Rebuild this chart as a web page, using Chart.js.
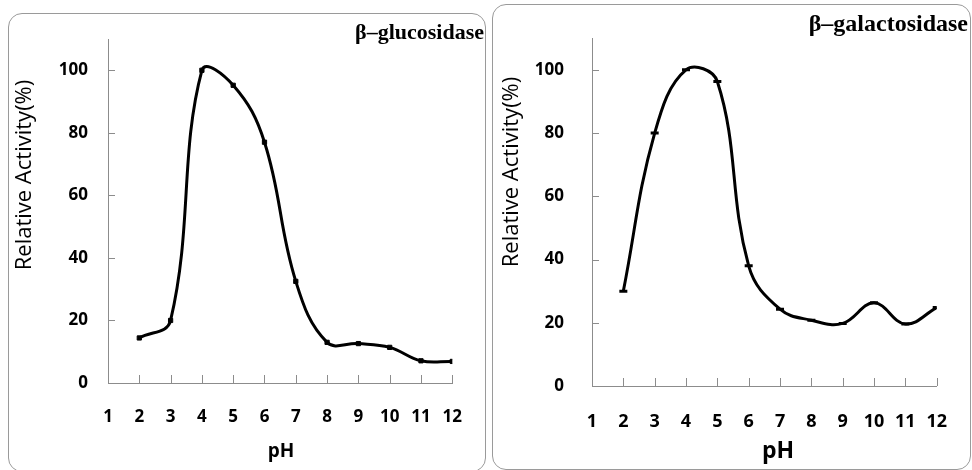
<!DOCTYPE html>
<html>
<head>
<meta charset="utf-8">
<script src="https://cdn.jsdelivr.net/npm/chart.js@4.4.0/dist/chart.umd.min.js"></script>
<style>
  body { margin:0; background:#fff; width:972px; height:470px; overflow:hidden; position:relative; }
  .panel { position:absolute; border:1.5px solid #9a9a9a; border-radius:14px; box-sizing:border-box; }
  #p1 { left:8px; top:13px; width:478px; height:459px; }
  #p2 { left:492px; top:4px; width:479px; height:466px; }
  canvas { position:absolute; top:0; }
</style>
</head>
<body>
<div class="panel" id="p1"></div>
<div class="panel" id="p2"></div>
<canvas id="c1" width="486" height="470" style="left:0"></canvas>
<canvas id="c2" width="486" height="470" style="left:486px"></canvas>
<script>
// pH values measured
let phValues = [2, 3, 4, 5, 6, 7, 8, 9, 10, 11, 12]
// relative activity (%)
let glucosidase = [14.4, 20, 100, 95.2, 77, 32.5, 13, 12.6, 11.4, 7.1, 6.9]
let galactosidase = [30, 80, 100, 96.3, 38, 24.3, 20.8, 19.8, 26.3, 19.6, 24.8]

let xTicks = [1, 2, 3, 4, 5, 6, 7, 8, 9, 10, 11, 12]
let yTicks = [0, 20, 40, 60, 80, 100]
let yTitle = "Relative Activity(%)"
let xTitle = "pH"

// inner tick marks + the extra texts
let decor = {
  id: 'decor',
  beforeDatasetsDraw(chart, args, o) {
    let ctx = chart.ctx, a = chart.chartArea
    ctx.save()
    ctx.strokeStyle = '#8c8c8c'
    ctx.lineWidth = 1
    ctx.beginPath()
    xTicks.forEach(function(v){
      if (v > xTicks[0]) {
        let px = Math.round(chart.scales.x.getPixelForValue(v)) + 0.5
        ctx.moveTo(px, a.bottom)
        ctx.lineTo(px, a.bottom - 8)
      }
    })
    yTicks.forEach(function(v){
      if (v > 0) {
        let py = Math.round(chart.scales.y.getPixelForValue(v)) + 0.5
        ctx.moveTo(a.left, py)
        ctx.lineTo(a.left + 7, py)
      }
    })
    ctx.stroke()
    ctx.restore()
  },
  afterDraw(chart, args, o) {
    let ctx = chart.ctx
    ctx.save()
    ctx.fillStyle = '#000'
    ctx.textBaseline = 'middle'
    // panel name
    ctx.font = 'bold ' + o.nameSize + 'px "Liberation Serif", serif'
    ctx.textAlign = 'right'
    ctx.fillText(o.name, o.nameX, o.nameY)
    // x title
    ctx.font = 'bold ' + o.xTitleSize + 'px "Open Sans", sans-serif'
    ctx.textAlign = 'center'
    ctx.fillText(xTitle, o.xTitleX, o.xTitleY)
    // y title
    ctx.font = o.yTitleSize + 'px "Open Sans", sans-serif'
    ctx.translate(o.yTitleX, o.yTitleY)
    ctx.rotate(-Math.PI / 2)
    ctx.fillText(yTitle, 0, 0)
    ctx.restore()
  }
}

function makeChart(id, values, g) {
  let points = []
  phValues.forEach(function(ph, i){
    points.push({ x: ph, y: values[i] })
  })
  return new Chart(document.getElementById(id), {
    type: 'line',
    data: {
      datasets: [{
        data: points,
        borderColor: '#000',
        backgroundColor: '#000',
        borderWidth: 3,
        tension: 0.4,
        fill: false,
        pointStyle: g.pointStyle,
        pointRadius: g.pointRadius,
        pointBorderWidth: g.pointBorderWidth,
        pointBorderColor: '#000',
        pointBackgroundColor: '#000'
      }]
    },
    options: {
      responsive: false,
      animation: false,
      layout: { padding: g.padding },
      plugins: {
        legend: { display: false },
        tooltip: { enabled: false },
        decor: g.decor
      },
      scales: {
        x: {
          type: 'linear',
          min: 1,
          max: 12,
          afterBuildTicks: function(s){ s.ticks = xTicks.map(function(v){ return { value: v } }) },
          afterFit: function(s){ s.height = g.xHeight },
          grid: { display: true, drawOnChartArea: false, drawTicks: false, color: '#8c8c8c' },
          border: { display: true, color: '#8c8c8c', width: 1 },
          ticks: {
            padding: g.xPad,
            color: '#000',
            maxRotation: 0,
            autoSkip: false,
            font: { family: '"Open Sans", sans-serif', size: g.xTickSize, weight: 'bold' }
          }
        },
        y: {
          min: 0,
          max: 110,
          afterBuildTicks: function(s){ s.ticks = yTicks.map(function(v){ return { value: v } }) },
          afterFit: function(s){ s.width = g.yWidth },
          grid: { display: true, drawOnChartArea: false, drawTicks: false, color: '#8c8c8c' },
          border: { display: true, color: '#8c8c8c', width: 1 },
          ticks: {
            padding: g.yPad,
            color: '#000',
            font: { family: '"Open Sans", sans-serif', size: g.yTickSize, weight: 'bold' }
          }
        }
      }
    },
    plugins: [decor]
  })
}

makeChart('c1', glucosidase, {
  padding: { left: 0, top: 39, right: 19, bottom: 0 },
  yWidth: 108, xHeight: 87, xPad: 24, yPad: 20,
  xTickSize: 17, yTickSize: 17,
  pointStyle: 'rect', pointRadius: 3, pointBorderWidth: 1,
  decor: {
    name: 'β–glucosidase', nameSize: 22, nameX: 484, nameY: 33,
    xTitleSize: 19, xTitleX: 281, xTitleY: 452,
    yTitleSize: 22, yTitleX: 25, yTitleY: 175
  }
})

makeChart('c2', galactosidase, {
  padding: { left: 0, top: 18, right: 22, bottom: 0 },
  yWidth: 106, xHeight: 84, xPad: 25, yPad: 28,
  xTickSize: 18, yTickSize: 17,
  pointStyle: 'line', pointRadius: 4, pointBorderWidth: 3,
  decor: {
    name: 'β–galactosidase', nameSize: 24, nameX: 482, nameY: 25,
    xTitleSize: 23, xTitleX: 292, xTitleY: 451,
    yTitleSize: 22, yTitleX: 26, yTitleY: 172
  }
})
</script>
</body>
</html>
